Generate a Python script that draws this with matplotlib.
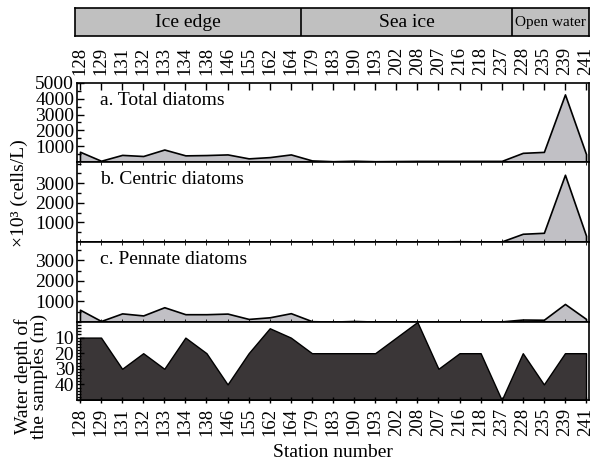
import matplotlib
matplotlib.use("Agg")
import matplotlib.pyplot as plt
import numpy as np
from matplotlib.ticker import MultipleLocator, FixedLocator

plt.rcParams['font.family'] = ['Liberation Serif', 'DejaVu Serif']
plt.rcParams['mathtext.fontset'] = 'stix'

# Station order along the transect
stations = ['128', '129', '131', '132', '133', '134', '138', '146', '155', '162',
            '164', '179', '183', '190', '193', '202', '208', '207', '216', '218',
            '237', '228', '235', '239', '241']

# Diatom abundance (x10^3 cells/L)
total = [650, 80, 450, 380, 790, 420, 440, 480, 230, 310,
         480, 100, 50, 80, 50, 60, 70, 70, 70, 70,
         70, 580, 640, 4280, 500]
centric = [20, 10, 20, 20, 30, 20, 20, 30, 20, 30,
           30, 20, 20, 20, 20, 30, 30, 30, 40, 30,
           30, 420, 470, 3430, 320]
pennate = [600, 50, 420, 320, 720, 380, 380, 410, 150, 230,
           430, 40, 20, 50, 20, 20, 30, 30, 30, 30,
           30, 120, 110, 880, 150]

# Sampling depth (m)
depth = [10, 10, 30, 20, 30, 10, 20, 40, 20, 4,
         10, 20, 20, 20, 20, 10, 0, 30, 20, 20,
         50, 20, 40, 20, 20]

# Hydrographic zones: (label, first index, last index)
zones = [('Ice edge', 0, 10), ('Sea ice', 11, 20), ('Open water', 21, 24)]

W, H = 591, 461
fig = plt.figure(figsize=(W / 100, H / 100), dpi=100)

def frac_box(x0, y0, x1, y1):
    return [x0 / W, 1 - y1 / H, (x1 - x0) / W, (y1 - y0) / H]

x = np.arange(len(stations))
xlim = (-0.14, len(stations) - 1 + 0.14)
light = '#c1c0c5'
dark = '#3a3637'
fs = 14

panel_rows = [(83, 162), (162, 242), (242, 322), (322, 400)]
axes = [fig.add_axes(frac_box(77, y0, 589, y1)) for (y0, y1) in panel_rows]

series = [(total, 'a. Total diatoms', 5000, [1000, 2000, 3000, 4000, 5000]),
          (centric, 'b. Centric diatoms', 4080, [1000, 2000, 3000]),
          (pennate, 'c. Pennate diatoms', 3900, [1000, 2000, 3000])]

for ax, (vals, title, ymax, yt) in zip(axes[:3], series):
    ax.fill_between(x, 0, vals, facecolor=light, edgecolor='black', linewidth=1.2)
    ax.set_xlim(*xlim)
    ax.set_ylim(0, ymax)
    ax.yaxis.set_major_locator(FixedLocator(yt))
    ax.yaxis.set_minor_locator(MultipleLocator(500))
    ax.text(0.045, 0.78, title, transform=ax.transAxes, fontsize=fs,
            va='center', ha='left')

# Depth panel
axd = axes[3]
axd.fill_between(x, 50, depth, facecolor=dark, edgecolor='black', linewidth=1.0)
axd.set_xlim(*xlim)
axd.set_ylim(50, 0)
axd.yaxis.set_major_locator(FixedLocator([10, 20, 30, 40]))
axd.yaxis.set_minor_locator(MultipleLocator(2))

for i, ax in enumerate(axes):
    ax.set_xticks(x)
    ax.tick_params(axis='both', which='both', direction='in', labelsize=fs,
                   top=True, right=True, width=1.0)
    ax.tick_params(axis='x', labelsize=13.5)
    ax.tick_params(axis='y', which='major', length=5, pad=2)
    ax.tick_params(axis='y', which='minor', length=3)
    ax.tick_params(axis='x', which='major', length=5)
    ax.tick_params(axis='y', which='both', right=False)
    for s in ax.spines.values():
        s.set_linewidth(1.2)
    if i == 0:
        ax.set_xticklabels(stations, rotation=90)
        ax.tick_params(axis='x', labeltop=True, labelbottom=False, bottom=False, pad=6)
    elif i == 3:
        ax.set_xticklabels(stations, rotation=90)
        ax.tick_params(axis='x', labeltop=False, labelbottom=True, top=False,
                       direction='inout', pad=3)
    else:
        ax.tick_params(axis='x', labelbottom=False, length=2, width=0.6)

# Zone header bar
axh = fig.add_axes(frac_box(75, 8, 589, 36))
hx0 = xlim[0] - 2 * (xlim[1] - xlim[0]) / 512
axh.set_xlim(hx0, xlim[1])
axh.set_ylim(0, 1)
axh.set_facecolor('#c0c0c0')
axh.set_xticks([])
axh.set_yticks([])
for s in axh.spines.values():
    s.set_linewidth(1.2)
edges = [hx0, 10.5, 20.5, xlim[1]]
for k, (name, a, b) in enumerate(zones):
    if k > 0:
        axh.axvline(edges[k], color='black', linewidth=1.2)
    cx = (edges[k] + edges[k + 1]) / 2
    axh.text(cx, 0.48, name, ha='center', va='center',
             fontsize=fs if k < 2 else 11)

fig.text(19 / W, 1 - 193 / H, '×10³ (cells/L)', rotation=90, ha='center',
         va='center', fontsize=fs)
fig.text(31 / W, 1 - 376 / H, 'Water depth of\nthe samples (m)', rotation=90,
         ha='center', va='center', fontsize=fs, linespacing=0.95)
fig.text(333 / W, 1 - 452 / H, 'Station number', ha='center', va='center',
         fontsize=fs)

fig.savefig('out.png', dpi=100)
